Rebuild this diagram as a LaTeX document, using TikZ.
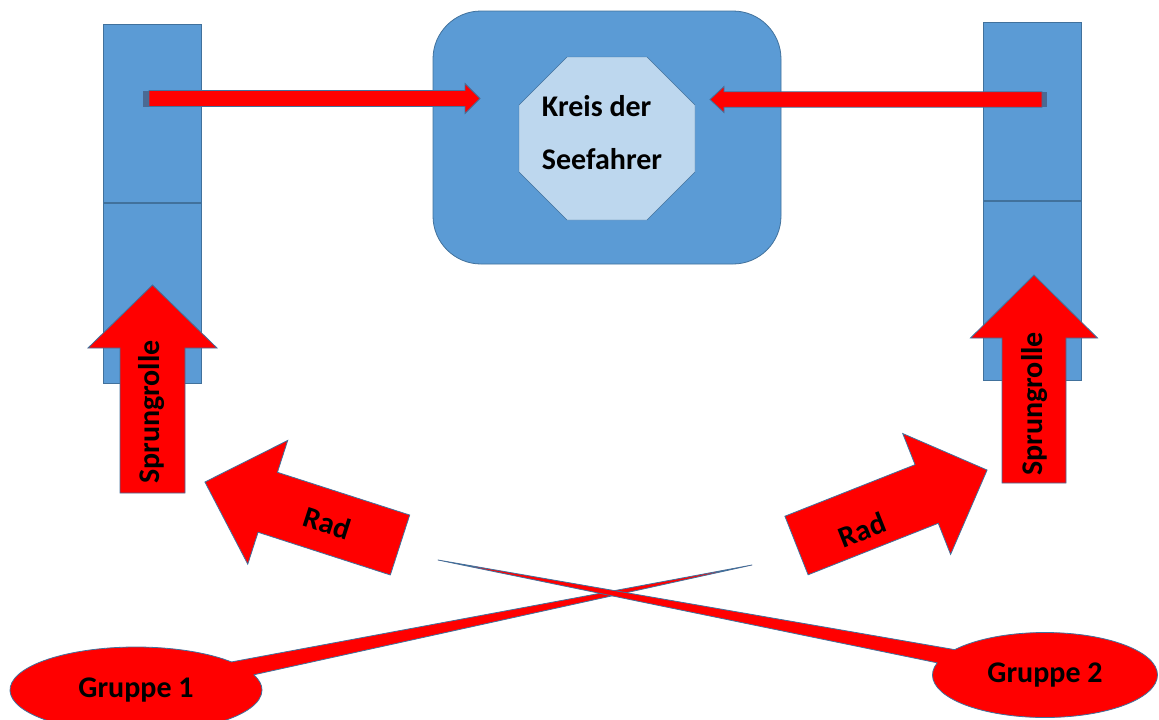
\documentclass[tikz,border=0pt]{standalone}
\usepackage{fontspec}
\setmainfont{Carlito}
\usetikzlibrary{shapes.callouts}

\definecolor{boxblue}{HTML}{5B9BD5}
\definecolor{edgeblue}{HTML}{41719C}
\definecolor{paleblue}{HTML}{BDD7EE}
\definecolor{stubblue}{HTML}{4A6A94}

\tikzset{
  bar/.style={draw=edgeblue, fill=boxblue, line width=0.8pt},
  divider/.style={draw=edgeblue, line width=2pt},
  arrowbody/.style={draw=edgeblue, fill=red, line width=0.8pt, line join=miter},
  arrtext/.style={font=\fontsize{30}{36}\selectfont\bfseries, inner sep=0pt},
  group/.style={ellipse callout, draw=edgeblue, fill=red, line width=0.8pt,
    line join=round, inner sep=0pt, callout pointer arc=20, arrtext},
}

% block arrow: tail point, angle, length, half shaft, half head, head length
\newcommand{\blockarrow}[6]{%
  \begin{scope}[shift={#1},rotate=#2]
    \draw[arrowbody] (0,-#4) -- ({#3-#6},-#4) -- ({#3-#6},-#5) -- (#3,0)
      -- ({#3-#6},#5) -- ({#3-#6},#4) -- (0,#4) -- cycle;
  \end{scope}}

\begin{document}
\begin{tikzpicture}[x=1pt,y=-1pt]
  \useasboundingbox (0,0) rectangle (1159,720);
  %% side bars
  \draw[bar] (103,24) rectangle (201,383);
  \draw[divider] (103,203) -- (201,203);
  \draw[bar] (983,22) rectangle (1081,380);
  \draw[divider] (983,201) -- (1081,201);
  %% circle of seafarers
  \draw[bar, rounded corners=48pt] (433,11) rectangle (781,264);
  \draw[draw=edgeblue, fill=paleblue] (567,57) -- (647,57) -- (695,105) -- (695,172)
    -- (647,220) -- (567,220) -- (519,172) -- (519,105) -- cycle;
  \node[arrtext, align=left, font=\fontsize{30}{53}\selectfont\bfseries] (kreis) at (602,133) {Kreis der\\Seefahrer};
  %% top arrows
  \fill[stubblue] (143,90.5) rectangle (149,106.5);
  \blockarrow{(149,98.5)}{0}{331}{8}{15}{15}
  \fill[stubblue] (1042,92) rectangle (1047,107);
  \blockarrow{(1042,99.5)}{180}{332}{7.7}{13}{14}
  %% Sprungrolle
  \blockarrow{(152.5,493)}{90}{208}{32.5}{64.5}{63}
  \node[arrtext, rotate=90] (sprungleft) at (152,412) {Sprungrolle};
  \blockarrow{(1034,483)}{90}{208}{32}{63.5}{63}
  \node[arrtext, rotate=90] (sprungright) at (1035,404) {Sprungrolle};
  %% Rad
  \blockarrow{(400,545)}{162.1}{205}{31.5}{65}{66}
  \node[arrtext, rotate=-17.9] (radleft) at (327,523) {Rad};
  \blockarrow{(796.5,545.5)}{21.6}{205}{31.5}{65}{65}
  \node[arrtext, rotate=21.6] (radright) at (862,530) {Rad};
  %% groups
  \node[group, minimum width=252pt, minimum height=86pt,
    callout absolute pointer={(752,565)}] (gruppe1) at (136,690) {Gruppe 1};
  \node[group, minimum width=225pt, minimum height=85pt,
    callout absolute pointer={(438,560)}] (gruppe2) at (1045,675) {Gruppe 2};
\end{tikzpicture}
\end{document}
